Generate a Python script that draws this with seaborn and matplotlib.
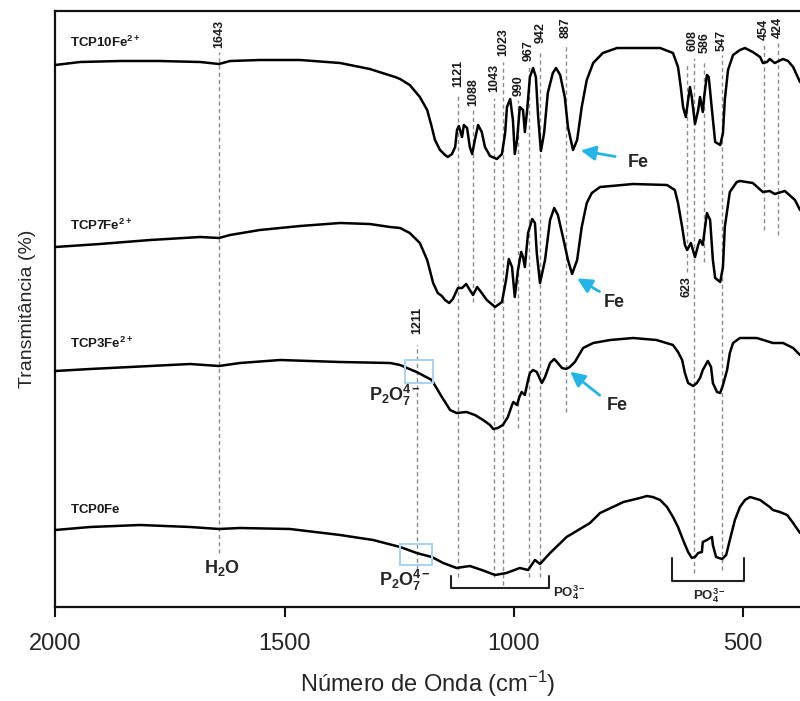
import matplotlib
matplotlib.use('Agg')
import matplotlib.pyplot as plt
import numpy as np
import pandas as pd
import seaborn as sns
from matplotlib.patches import Rectangle

# Spectra: wavenumber (cm-1) and offset transmittance (arb. units)
tcp10_w = [2000, 1946, 1859, 1772, 1684, 1643, 1619, 1554, 1466, 1379, 1314, 1259, 1248, 1227, 1205,
           1189, 1179, 1172, 1161, 1150, 1144, 1135, 1128, 1124, 1120, 1113, 1109, 1102, 1096, 1091,
           1085, 1078, 1070, 1063, 1052, 1037, 1026, 1019, 1015, 1008, 1002, 998, 993, 987, 980, 976,
           971, 965, 958, 952, 947, 941, 934, 926, 915, 908, 899, 889, 882, 871, 862, 852, 841, 827,
           806, 775, 681, 653, 642, 636, 631, 625, 620, 616, 612, 605, 598, 594, 588, 585, 579, 575,
           568, 561, 550, 544, 540, 533, 522, 507, 496, 479, 463, 457, 448, 442, 431, 413, 402, 391, 376]
tcp10_t = [542, 545, 546, 546, 545, 543, 546, 547, 547, 544, 538, 530, 528, 522, 510,
           497, 480, 467, 457, 452, 450, 453, 460, 477, 481, 470, 482, 479, 460, 453,
           467, 482, 475, 460, 451, 448, 453, 474, 500, 508, 487, 453, 467, 500, 497, 475,
           497, 530, 539, 530, 490, 456, 474, 514, 534, 539, 532, 510, 480, 457, 467, 500, 527, 544,
           554, 559, 559, 554, 540, 520, 500, 490, 507, 520, 510, 483, 497, 510, 495, 510, 532, 530,
           497, 465, 462, 474, 507, 537, 552, 557, 559, 555, 550, 544, 545, 548, 544, 548, 546, 540, 525]

tcp7_w = [2000, 1903, 1793, 1684, 1643, 1619, 1554, 1466, 1379, 1314, 1270, 1248, 1227, 1205, 1189,
          1176, 1166, 1157, 1150, 1141, 1133, 1122, 1113, 1104, 1096, 1089, 1080, 1070, 1059, 1041,
          1026, 1017, 1011, 1004, 998, 991, 984, 980, 976, 969, 960, 954, 950, 943, 932, 921, 912,
          904, 893, 882, 873, 862, 852, 841, 830, 812, 740, 666, 649, 642, 633, 627, 622, 614, 605,
          598, 594, 588, 583, 579, 572, 566, 561, 550, 544, 540, 529, 514, 507, 479, 457, 442, 431,
          409, 387, 376]
tcp7_t = [360, 363, 367, 370, 369, 372, 377, 381, 384, 383, 380, 379, 374, 364, 347,
          324, 314, 311, 307, 304, 308, 319, 319, 323, 317, 312, 320, 314, 307, 300,
          305, 327, 348, 340, 310, 337, 355, 350, 340, 374, 388, 384, 354, 324, 347, 387, 399,
          392, 370, 347, 333, 347, 380, 404, 414, 420, 423, 422, 417, 404, 380, 362, 357, 364, 350,
          362, 367, 362, 380, 394, 387, 347, 329, 325, 340, 380, 415, 425, 426, 424, 415, 416, 413,
          416, 407, 397]

tcp3_w = [2000, 1924, 1706, 1643, 1597, 1510, 1379, 1270, 1248, 1233, 1212, 1179, 1157, 1139, 1125,
          1103, 1085, 1067, 1052, 1045, 1035, 1024, 1013, 1004, 1001, 993, 988, 983, 976, 969, 965,
          958, 950, 939, 932, 921, 912, 906, 895, 886, 878, 867, 849, 827, 790, 740, 689, 653, 642,
          633, 627, 620, 609, 601, 594, 588, 577, 570, 566, 557, 550, 544, 535, 529, 522, 507, 470,
          435, 413, 391, 376]
tcp3_t = [236, 238, 243, 241, 244, 247, 245, 244, 242, 239, 235, 227, 210, 197, 194,
          195, 192, 187, 182, 178, 179, 182, 190, 202, 205, 202, 210, 215, 212, 227, 234,
          237, 235, 224, 230, 244, 248, 245, 239, 238, 240, 245, 259, 264, 267, 269, 267, 262, 255,
          247, 234, 224, 221, 224, 229, 237, 246, 240, 224, 215, 214, 222, 237, 254, 264, 269, 269,
          264, 264, 259, 252]

tcp0_w = [2000, 1924, 1815, 1706, 1643, 1597, 1488, 1379, 1307, 1248, 1212, 1179, 1154, 1125, 1096,
          1070, 1041, 1016, 987, 969, 954, 943, 921, 885, 834, 812, 761, 725, 710, 697, 681, 666,
          653, 642, 631, 620, 612, 605, 598, 590, 588, 579, 572, 568, 566, 559, 546, 537, 529, 518,
          507, 496, 485, 463, 442, 435, 420, 404, 391, 376]
tcp0_t = [77, 80, 82, 80, 78, 79, 78, 72, 67, 60, 54, 50, 44, 39, 41,
          37, 32, 34, 39, 37, 47, 43, 54, 70, 84, 94, 105, 109, 111, 110, 107, 100,
          90, 80, 67, 55, 49, 50, 54, 55, 65, 67, 69, 70, 62, 50, 48, 52, 67, 87,
          100, 107, 110, 107, 100, 97, 95, 92, 84, 74]

samples = ['TCP10Fe^{2+}', 'TCP7Fe^{2+}', 'TCP3Fe^{2+}', 'TCP0Fe']

# Marked bands
peaks = [1643, 1211, 1121, 1088, 1043, 1023, 990, 967, 942, 887, 623, 608, 586, 547, 454, 424]

# layout of the guide lines (bottom, top, label x and y)
line_lo = [54, 30, 30, 305, 30, 22, 179, 30, 30, 195, 335, 34, 345, 37, 377, 372]
line_hi = [555, 262, 512, 497, 509, 545, 507, 540, 557, 562, 542, 549, 547, 552, 562, 564]
label_x = [1643, 1211, 1121, 1088, 1043, 1023, 990, 967, 942, 887, 623, 611, 583, 547, 454, 424]
label_y = [573, 287, 534, 515, 529, 565, 521, 556, 574, 579, 320, 566, 564, 567, 578, 580]

sns.set_theme(style='ticks')
plt.rcParams['font.family'] = ['Liberation Sans', 'DejaVu Sans']
plt.rcParams['mathtext.fontset'] = 'custom'
plt.rcParams['mathtext.rm'] = 'Liberation Sans'
plt.rcParams['mathtext.bf'] = 'Liberation Sans:bold'
plt.rcParams['mathtext.it'] = 'Liberation Sans:italic'

fig = plt.figure(figsize=(8, 7.01), dpi=100)
ax = fig.add_axes([0.0691, 0.1341, 0.9309, 0.8502])

# guide lines first so the spectra sit on top
for w, lo, hi, lx, ly in zip(peaks, line_lo, line_hi, label_x, label_y):
    ax.plot([w, w], [lo, hi], color='#8c8c8c', lw=1, ls=(0, (3, 2.2)), zorder=1)
    ax.text(lx, ly, str(w), rotation=90, ha='center', va='center', fontsize=9,
            fontweight='bold', color='#1a1a1a')

spectra = [(tcp10_w, tcp10_t), (tcp7_w, tcp7_t), (tcp3_w, tcp3_t), (tcp0_w, tcp0_t)]
for w, t in spectra:
    df = pd.DataFrame({'w': w, 't': t})
    sns.lineplot(data=df, x='w', y='t', ax=ax, color='black', lw=1.8, estimator=None,
                 sort=False, zorder=3)

# sample names
for name, y in zip(samples, [565, 382, 264, 97]):
    ax.text(1968, y, r'$\mathbf{' + name + '}$', fontsize=9.5,
            ha='left', va='center', color='#1a1a1a')

# group labels
ax.text(1636, 39, r'$\mathbf{H_2O}$', fontsize=13, ha='center', va='center')
ax.text(1259, 212, r'$\mathbf{P_2O_7^{4-}}$', fontsize=13, ha='center', va='center')
ax.text(1237, 27, r'$\mathbf{P_2O_7^{4-}}$', fontsize=13, ha='center', va='center')
ax.add_patch(Rectangle((1176, 224), 61, 23, fill=False, ec='#a9d3f2', lw=1.5, zorder=4))
ax.add_patch(Rectangle((1179, 42), 69, 21, fill=False, ec='#a9d3f2', lw=1.5, zorder=4))

# PO4 brackets
ax.plot([1136, 1136, 924, 924], [31, 19, 19, 31], color='#222222', lw=1.5)
ax.plot([655, 655, 498, 498], [49, 26, 26, 49], color='#222222', lw=1.5)
ax.text(915, 14, r'$\mathbf{PO_4^{3-}}$', fontsize=9.5, ha='left', va='center')
ax.text(574, 11, r'$\mathbf{PO_4^{3-}}$', fontsize=9.5, ha='center', va='center')

# Fe arrows
for tip, tail, txt in [((860, 457), (773, 450), (729, 445)),
                       ((867, 330), (808, 314), (780, 305)),
                       ((882, 237), (808, 210), (775, 201))]:
    ax.annotate('', xy=tip, xytext=tail,
                arrowprops=dict(arrowstyle='-|>', color='#22b5e6', lw=2, mutation_scale=22))
    ax.text(txt[0], txt[1], 'Fe', fontsize=13, fontweight='bold', ha='center', va='center')

ax.set_xlim(2000, 376)
ax.set_ylim(0, 596)
ax.set_xticks([2000, 1500, 1000, 500])
ax.set_yticks([])
ax.set_xlabel('Número de Onda (cm$^{-1}$)', fontsize=17, labelpad=10)
ax.set_ylabel('Transmitância (%)', fontsize=14, labelpad=14)
ax.tick_params(axis='x', direction='out', length=7, width=1.5, labelsize=17, pad=12, color='#111111')
for side in ['left', 'bottom', 'top']:
    ax.spines[side].set_linewidth(1.6)
    ax.spines[side].set_color('#111111')
ax.spines['right'].set_visible(False)

fig.savefig('out.png', dpi=100)
